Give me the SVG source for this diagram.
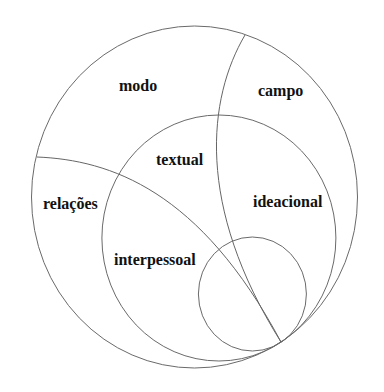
<svg xmlns="http://www.w3.org/2000/svg" width="384" height="392" viewBox="0 0 384 392">
<style>
.ring{fill:none;stroke:#6a6a6a;stroke-width:1}
.div{fill:none;stroke:#666;stroke-width:1}
.lbl{font-family:"Liberation Serif","Times New Roman",serif;font-weight:bold;font-size:16px;fill:#111}
</style>
<rect width="384" height="392" fill="#ffffff"/>
<g id="contexto">
<ellipse class="ring" cx="194.5" cy="197" rx="163" ry="171" stroke="#808080"/>
</g>
<g id="metafuncoes">
<ellipse class="ring" cx="218.9" cy="238" rx="117" ry="123"/>
</g>
<g id="texto">
<ellipse class="ring" cx="252.4" cy="294" rx="54" ry="57" stroke="#4a4a4a"/>
</g>
<g id="connectors">
<path class="div" d="M245,35 C208,98 195,205 281,342"/>
<path class="div" d="M37,157 C110,160 200,190 281,342"/>
</g>
<g id="modo"><text class="lbl" x="119" y="91">modo</text></g>
<g id="campo"><text class="lbl" x="258" y="96">campo</text></g>
<g id="textual"><text class="lbl" x="156" y="165">textual</text></g>
<g id="relacoes"><text class="lbl" x="43" y="209">relações</text></g>
<g id="ideacional"><text class="lbl" x="253" y="207">ideacional</text></g>
<g id="interpessoal"><text class="lbl" x="114" y="265">interpessoal</text></g>
</svg>
